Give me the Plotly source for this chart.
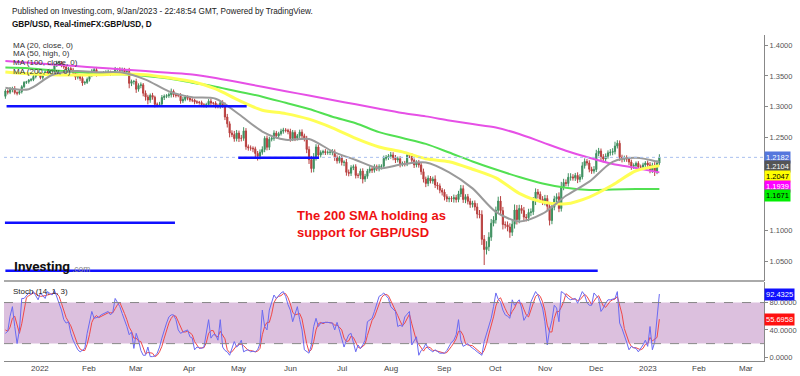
import plotly.graph_objects as go
import pandas as pd

# ---------------- DATA ----------------
first_open = 1.3170
close_dec21 = [1.3255,1.3235,1.3280,1.3290,1.3230,1.3220,1.3245,1.3325,1.3395,1.3405,1.3430,1.3440,1.3490,1.3525,1.3530]
close_jan22 = [1.3475,1.3530,1.3565,1.3530,1.3590,1.3595,1.3665,1.3710,1.3715,1.3675,1.3645,1.3615,1.3620,1.3595,1.3550,1.3480,1.3495,1.3460,1.3385,1.3395,1.3445]
close_feb22 = [1.3510,1.3580,1.3600,1.3530,1.3535,1.3535,1.3545,1.3555,1.3560,1.3540,1.3545,1.3610,1.3610,1.3590,1.3595,1.3565,1.3570,1.3380,1.3410,1.3410]
close_mar22 = [1.3285,1.3345,1.3355,1.3220,1.3160,1.3110,1.3185,1.3155,1.3040,1.3040,1.3045,1.3150,1.3170,1.3180,1.3195,1.3250,1.3195,1.3185,1.3185,1.3095,1.3120,1.3160,1.3140]
close_apr22 = [1.3110,1.3110,1.3080,1.3075,1.3070,1.3035,1.3020,1.3035,1.3090,1.3060,1.3060,1.3015,1.3005,1.3065,1.3025,1.2835,1.2725,1.2575,1.2550,1.2485,1.2575]
close_may22 = [1.2490,1.2490,1.2610,1.2355,1.2335,1.2330,1.2320,1.2245,1.2200,1.2265,1.2310,1.2490,1.2345,1.2475,1.2490,1.2575,1.2530,1.2565,1.2605,1.2625,1.2620,1.2600]
close_jun22 = [1.2485,1.2585,1.2490,1.2530,1.2590,1.2530,1.2490,1.2310,1.2145,1.2000,1.2180,1.2350,1.2220,1.2260,1.2275,1.2260,1.2265,1.2265,1.2270,1.2180,1.2125,1.2175]
close_jul22 = [1.2100,1.2105,1.1940,1.1925,1.2015,1.2030,1.1890,1.1890,1.1960,1.1830,1.1875,1.1960,1.1995,1.1975,1.2030,1.1995,1.2030,1.2040,1.2165,1.2180,1.2200]
close_aug22 = [1.2220,1.2180,1.2140,1.2160,1.2080,1.2085,1.2075,1.2215,1.2210,1.2135,1.2060,1.2100,1.2060,1.1950,1.1830,1.1760,1.1845,1.1800,1.1830,1.1735,1.1720,1.1650,1.1620]
close_sep22 = [1.1545,1.1510,1.1515,1.1510,1.1530,1.1500,1.1590,1.1675,1.1500,1.1545,1.1470,1.1420,1.1440,1.1380,1.1265,1.1255,1.0855,1.0690,1.0735,1.0890,1.1115,1.1170]
close_oct22 = [1.1325,1.1475,1.1320,1.1095,1.1090,1.1055,1.0970,1.1100,1.1330,1.1175,1.1355,1.1320,1.1215,1.1205,1.1290,1.1300,1.1470,1.1620,1.1585,1.1505,1.1465]
close_nov22 = [1.1515,1.1390,1.1160,1.1375,1.1510,1.1545,1.1355,1.1705,1.1775,1.1760,1.1860,1.1865,1.1850,1.1890,1.1825,1.1865,1.2045,1.2115,1.2090,1.1990,1.1960,1.1985]
close_dec22 = [1.2245,1.2285,1.2190,1.2155,1.2200,1.2255,1.2265,1.2275,1.2365,1.2410,1.2185,1.2150,1.2175,1.2155,1.2105,1.2040,1.2050,1.2085,1.2025,1.2025,1.2060,1.2090]
close_jan23 = [1.2060,1.1975,1.2055,1.1950,1.2090,1.2182]

# upper / lower wick lengths in pips
upper_wicks = [30,25,40,35,45,20,30,25,20,15,20,25,30,20,35,
    30,25,30,40,25,20,30,35,30,25,30,20,25,30,35,40,45,30,35,25,30,
    25,30,40,45,25,20,30,35,40,25,30,35,20,30,40,35,30,60,30,25,
    45,35,40,30,45,35,30,40,25,30,35,40,30,25,35,45,30,25,20,35,40,30,25,
    25,30,20,25,20,30,25,30,35,40,20,30,35,30,40,45,50,40,45,60,50,
    40,55,60,45,35,40,30,35,40,45,50,35,45,40,30,45,35,30,40,35,30,25,
    45,40,35,30,40,45,35,40,50,60,70,45,40,35,30,40,30,35,45,40,35,30,
    35,30,50,45,40,35,40,35,40,45,40,35,45,30,40,35,40,30,45,40,35,
    50,45,40,35,40,30,40,45,35,40,30,35,40,45,50,40,45,35,40,60,45,40,35,
    45,40,35,40,50,45,50,60,55,40,45,50,40,45,60,65,70,70,90,80,70,60,
    60,70,80,60,50,55,60,70,90,80,60,55,60,50,60,55,70,60,50,45,50,
    60,55,70,60,50,55,70,80,60,50,65,60,45,40,50,45,60,50,40,45,40,55,
    60,50,40,45,45,40,50,55,70,50,45,40,35,40,35,40,35,30,35,40,35,30,
    40,45,40,50,45,50]
lower_wicks = [40,35,30,45,30,35,25,30,20,25,30,20,25,30,20,
    30,35,25,20,40,30,25,20,30,35,30,25,30,35,40,45,35,40,45,30,25,
    35,30,25,40,30,35,30,25,35,40,30,25,30,35,25,30,35,80,45,50,
    60,40,45,50,60,70,45,40,50,45,40,35,40,30,35,45,40,35,30,45,35,30,35,
    30,35,40,30,35,40,30,35,30,35,30,40,30,35,40,50,60,70,40,50,45,
    60,50,40,50,45,40,55,60,70,50,40,45,50,45,35,40,45,35,30,40,35,45,
    50,40,45,35,40,45,50,60,70,65,60,50,45,40,35,40,35,45,50,55,45,40,
    50,60,55,50,45,40,50,45,60,70,45,40,35,45,40,35,40,45,40,35,40,
    40,45,50,40,60,45,40,35,40,45,50,40,45,50,55,60,45,40,45,50,60,50,55,
    60,50,55,50,60,50,45,50,55,60,50,55,50,60,70,60,90,250,80,70,60,50,
    60,50,70,80,60,70,90,60,70,80,60,50,70,60,55,60,50,60,70,60,55,
    60,70,80,60,50,55,60,50,55,45,50,55,45,50,60,45,40,45,40,50,45,40,
    40,45,60,55,50,40,45,50,45,40,60,50,40,45,50,60,45,40,50,45,40,35,
    40,50,45,70,40,35]

# moving averages read every 10 bars
ma_step = 10
ma20 = [1.331,1.3285,1.3515,1.358,1.356,1.3555,1.344,1.325,1.3155,1.313,1.288,1.260,1.2465,1.248,1.228,1.214,1.2005,1.207,1.210,1.194,1.168,1.130,1.1145,1.127,1.156,1.179,1.211,1.2175,1.2104]
ma50 = [1.3565,1.3535,1.352,1.3513,1.352,1.353,1.352,1.347,1.341,1.329,1.3105,1.2945,1.289,1.280,1.266,1.249,1.235,1.227,1.216,1.211,1.199,1.185,1.160,1.146,1.143,1.154,1.1735,1.1965,1.2047]
ma100 = [1.3635,1.3625,1.359,1.3565,1.354,1.3525,1.350,1.3457,1.339,1.3325,1.3245,1.3164,1.3065,1.2965,1.284,1.2735,1.259,1.2495,1.240,1.226,1.2115,1.1985,1.1865,1.176,1.169,1.1655,1.1662,1.1668,1.1671]
ma200 = [1.374,1.3713,1.3686,1.3659,1.3632,1.3605,1.3578,1.355,1.3524,1.3467,1.3396,1.3325,1.3253,1.3182,1.311,1.304,1.2968,1.290,1.2845,1.278,1.272,1.2665,1.256,1.2425,1.229,1.2175,1.2075,1.201,1.1939]

stoch_k = [35,38,60,74,45,20,40,86,86,90, 94,92,96,90,84,94,90,86,96,93,
    91,98,89,80,69,55,50,52,35,25, 18,11,8,10,13,35,50,67,57,58,
    59,62,64,65,67,62,66,86,80,74, 64,55,45,33,37,13,35,25,10,3,
    3,15,1,1,2,6,15,28,40,50, 59,62,62,55,40,35,37,38,40,30,
    28,11,15,14,13,15,35,55,28,33, 33,25,55,15,10,8,3,12,23,15,
    18,25,8,10,11,8,9,8,11,20, 69,45,40,69,80,91,86,90,94,96,
    89,77,69,52,64,74,55,40,11,8, 6,18,45,57,45,50,51,51,51,50,
    50,40,51,40,28,15,25,33,35,20, 8,18,13,18,25,52,54,57,67,80,
    89,91,94,90,86,74,70,67,45,47, 45,59,63,67,18,25,30,3,10,13,
    20,13,10,8,11,9,6,6,6,10, 16,22,25,33,55,25,16,18,20,16,
    14,11,8,5,3,23,35,45,57,74, 94,85,81,69,62,60,57,84,76,80,
    84,72,54,60,64,81,90,96,91,80, 72,52,18,40,54,76,72,52,96,94,
    90,86,84,85,86,79,88,96,91,80, 76,76,94,90,86,67,72,79,84,84,
    85,86,96,50,42,33,22,11,16,14, 13,8,13,18,25,16,45,11,22,53,
    92.4325]
stoch_d = [40,38,44,57,60,46,35,49,71,87, 90,92,94,93,90,89,89,90,91,92,
    93,94,93,89,79,68,58,52,46,37, 26,18,12,10,10,19,33,51,58,61,
    58,60,62,64,65,65,65,71,77,80, 73,64,55,44,38,28,28,24,23,13,
    5,7,6,6,1,3,8,16,28,39, 50,57,61,60,52,43,37,37,38,36,
    33,23,18,13,14,14,21,35,39,39, 31,30,38,32,27,11,7,8,13,17,
    19,19,17,14,10,10,9,8,9,13, 33,45,51,51,63,80,86,89,90,93,
    93,87,78,66,62,63,64,56,35,20, 8,11,23,40,49,51,49,51,51,51,
    50,47,47,44,40,28,23,24,31,29, 21,15,13,16,19,32,44,54,59,68,
    79,87,91,92,90,83,77,70,61,53, 46,50,56,63,49,37,24,19,14,9,
    14,15,14,10,10,9,9,7,6,7, 11,16,21,27,38,38,32,20,18,18,
    17,14,11,8,5,10,20,34,46,59, 75,84,87,78,71,64,60,67,72,80,
    80,79,70,62,59,68,78,89,92,89, 81,68,47,37,37,57,67,67,73,81,
    93,90,87,85,85,83,84,88,92,89, 82,77,82,87,90,81,75,73,78,82,
    84,85,89,77,63,42,32,22,16,14, 14,12,11,13,19,20,29,24,26,29,
    55.6958]

# horizontal support lines: level, start bar, end bar
support_levels = [1.3010, 1.2175, 1.1125, 1.0348]
support_start = [0.5, 99.7, -0.2, 0.0]
support_end = [103.3, 134.3, 72.6, 253.6]

month_labels = ["2022", "Feb", "Mar", "Apr", "May", "Jun", "Jul", "Aug", "Sep", "Oct", "Nov", "Dec", "2023", "Feb", "Mar"]
price_ticks = [1.05, 1.10, 1.15, 1.20, 1.25, 1.30, 1.35, 1.40]
price_hidden = [1.15, 1.20]   # labels covered by the value badges
stoch_ticks = [0, 40, 80]

last_price = 1.2182
ma_last = [1.2104, 1.2047, 1.1939, 1.1671]

# ---------------- BUILD ----------------
closes = (close_dec21 + close_jan22 + close_feb22 + close_mar22 + close_apr22 + close_may22 +
          close_jun22 + close_jul22 + close_aug22 + close_sep22 + close_oct22 + close_nov22 +
          close_dec22 + close_jan23)
n = len(closes)
opens = [first_open] + closes[:-1]
highs = [max(o, c) + u / 10000 for o, c, u in zip(opens, closes, upper_wicks)]
lows = [min(o, c) - l / 10000 for o, c, l in zip(opens, closes, lower_wicks)]
xs = list(range(n))

all_days = pd.bdate_range("2021-12-13", "2023-03-31")
tick_pos = []
seen = set()
for i, d in enumerate(all_days):
    key = (d.year, d.month)
    if key not in seen:
        seen.add(key)
        if d.year != 2021:
            tick_pos.append(i)

ma_x = list(range(0, n, ma_step))

fig = go.Figure()

ma_styles = [(ma200, "#e650e6", 2), (ma100, "#52e052", 2), (ma50, "#ffff55", 3), (ma20, "#9a9a9a", 2)]
for vals, col, w in ma_styles:
    fig.add_trace(go.Scatter(x=ma_x, y=vals, mode="lines", line=dict(color=col, width=w, shape="spline", smoothing=0.8),
                             hoverinfo="skip", showlegend=False, xaxis="x", yaxis="y"))

fig.add_trace(go.Candlestick(x=xs, open=opens, high=highs, low=lows, close=closes,
                             increasing=dict(line=dict(color="#3f9060", width=1), fillcolor="#2e8b57"),
                             decreasing=dict(line=dict(color="#b84040", width=1), fillcolor="#c0392b"),
                             whiskerwidth=0, showlegend=False, hoverinfo="skip", xaxis="x", yaxis="y"))

fig.add_trace(go.Scatter(x=xs, y=stoch_d, mode="lines", line=dict(color="#f04848", width=1),
                         showlegend=False, hoverinfo="skip", xaxis="x", yaxis="y2"))
fig.add_trace(go.Scatter(x=xs, y=stoch_k, mode="lines", line=dict(color="#6a6af2", width=1),
                         showlegend=False, hoverinfo="skip", xaxis="x", yaxis="y2"))

shapes = []
shapes.append(dict(type="rect", xref="paper", yref="y2", x0=0, x1=1, y0=20, y1=80,
                   fillcolor="#dcc0de", line=dict(width=0), layer="below"))
for lv in [20, 80]:
    shapes.append(dict(type="line", xref="paper", yref="y2", x0=0, x1=1, y0=lv, y1=lv,
                       line=dict(color="#888888", width=1, dash="dash")))
shapes.append(dict(type="line", xref="paper", yref="y", x0=0, x1=1, y0=last_price, y1=last_price,
                   line=dict(color="#a9c0ef", width=1, dash="dot")))
for lv, s, e in zip(support_levels, support_start, support_end):
    shapes.append(dict(type="line", xref="x", yref="y", x0=s, x1=e, y0=lv, y1=lv,
                       line=dict(color="#1010ff", width=2.5)))
shapes.append(dict(type="line", xref="paper", yref="paper", x0=0, x1=1, y0=0.2454, y1=0.2454,
                   line=dict(color="#aaaaaa", width=2)))

annotations = []
font = "Liberation Sans, Arial, sans-serif"
annotations.append(dict(xref="paper", yref="paper", x=0.0075, y=1.0736, xanchor="left", yanchor="middle",
                        text="Published on Investing.com, 9/Jan/2023 - 22:48:54 GMT, Powered by TradingView.",
                        showarrow=False, font=dict(family=font, size=8.2, color="#222")))
annotations.append(dict(xref="paper", yref="paper", x=0.0075, y=1.0337, xanchor="left", yanchor="middle",
                        text="<b>GBP/USD, Real-timeFX:GBP/USD, D</b>",
                        showarrow=False, font=dict(family=font, size=8.2, color="#111")))
ma_texts = ["MA (20, close, 0)", "MA (50, high, 0)", "MA (100, close, 0)", "MA (200, low, 0)"]
ma_ys = [0.969, 0.9425, 0.916, 0.889]
for t, yy in zip(ma_texts, ma_ys):
    annotations.append(dict(xref="paper", yref="paper", x=0.009, y=yy, xanchor="left", yanchor="middle",
                            text=t, showarrow=False, font=dict(family=font, size=8, color="#333")))
annotations.append(dict(xref="paper", yref="paper", x=0.009, y=0.2147, xanchor="left", yanchor="middle",
                        text="Stoch (14, 1, 3)", showarrow=False, font=dict(family=font, size=8, color="#222")))
annotations.append(dict(xref="paper", yref="paper", x=0.0105, y=0.290, xanchor="left", yanchor="middle",
                        text="<b>Investing</b>", showarrow=False,
                        font=dict(family="Roboto, Liberation Sans, sans-serif", size=13.5, color="#111")))
annotations.append(dict(xref="paper", yref="paper", x=0.0865, y=0.283, xanchor="left", yanchor="middle",
                        text=".com", showarrow=False, font=dict(family=font, size=8.5, color="#888")))
annotations.append(dict(xref="x", yref="y", x=124, y=1.1105, xanchor="left", yanchor="middle", align="left",
                        text="<b>The 200 SMA holding as<br>support for GBP/USD</b>", showarrow=False,
                        font=dict(family=font, size=13, color="#ee1111")))
for p, lab in zip(tick_pos, month_labels):
    annotations.append(dict(xref="x", yref="paper", x=p, y=-0.0215, xanchor="center", yanchor="middle",
                            text=lab, showarrow=False, font=dict(family=font, size=8, color="#444")))

badge_vals = [last_price] + ma_last
badge_bg = ["#5577dd", "#555555", "#ffff00", "#ff00ff", "#00ee00"]
badge_fg = ["#ffffff", "#ffffff", "#000000", "#ffffff", "#000000"]
badge_shift = [0, -4.5, -11, -14, -7]
for v, bg, fg, sh in zip(badge_vals, badge_bg, badge_fg, badge_shift):
    annotations.append(dict(xref="paper", yref="y", x=1, y=v, xanchor="left", yanchor="middle", xshift=0, yshift=sh,
                            text="%.4f" % v, showarrow=False, bgcolor=bg, borderpad=1,
                            font=dict(family=font, size=7.5, color=fg)))
for v, bg in zip([stoch_k[-1], stoch_d[-1]], ["#1010ff", "#ff1010"]):
    annotations.append(dict(xref="paper", yref="y2", x=1, y=v, xanchor="left", yanchor="middle", xshift=0,
                            text="%.4f" % v, showarrow=False, bgcolor=bg, borderpad=1,
                            font=dict(family=font, size=7.5, color="#ffffff")))

fig.update_layout(
    width=800, height=376,
    margin=dict(l=4, r=36, t=35, b=15),
    paper_bgcolor="white", plot_bgcolor="white",
    showlegend=False,
    xaxis=dict(range=[-0.6, 324.8], anchor="y2", tickvals=tick_pos, showticklabels=False,
               showgrid=False, zeroline=False, showline=True, linecolor="#888888", linewidth=1,
               ticks="", rangeslider=dict(visible=False)),
    yaxis=dict(domain=[0.2454, 1], range=[1.0181, 1.4162], side="right", anchor="x",
               tickvals=price_ticks,
               ticktext=["" if v in price_hidden else "%.4f" % v for v in price_ticks],
               showgrid=False, zeroline=False, showline=True, linecolor="#888888", linewidth=1,
               ticks="outside", ticklen=3, tickcolor="#888888", tickfont=dict(family=font, size=7.5, color="#555")),
    yaxis2=dict(domain=[0, 0.2423], range=[-5.4, 110], side="right", anchor="x",
                tickvals=stoch_ticks, ticktext=["%.4f" % v for v in stoch_ticks],
                showgrid=False, zeroline=False, showline=True, linecolor="#888888", linewidth=1,
                ticks="outside", ticklen=3, tickcolor="#888888", tickfont=dict(family=font, size=7.5, color="#555")),
    shapes=shapes,
    annotations=annotations,
)

fig.write_html("out.html", config={"displayModeBar": False},
               post_script="document.body.style.margin='0';document.body.style.overflow='hidden';")
